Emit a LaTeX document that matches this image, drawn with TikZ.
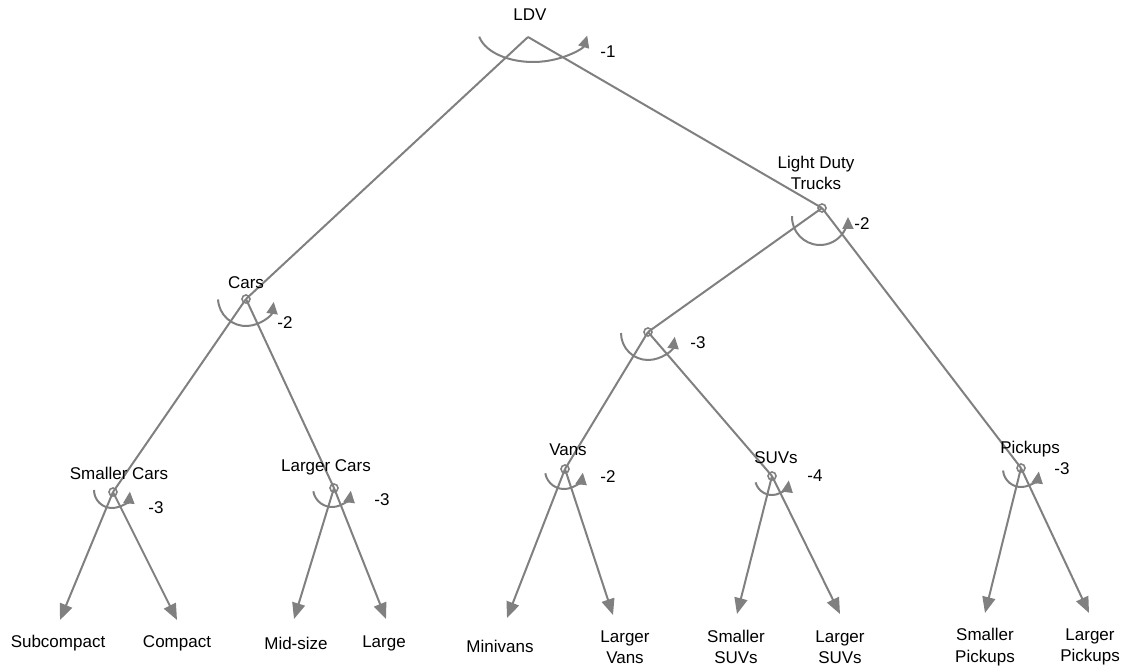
\documentclass[tikz,border=0pt]{standalone}
\usepackage{fontspec}
\setmainfont{Liberation Sans}
\usepackage{tikz}
\usetikzlibrary{arrows.meta}
\definecolor{ldvgray}{RGB}{128,128,128}
\definecolor{ldvtext}{RGB}{0,0,0}

\tikzset{
  branch/.style={draw=ldvgray, line width=2pt},
  leafarrow/.style={branch, -{Triangle[length=16pt,width=13pt]}},
  looparc/.style={draw=ldvgray, line width=2pt, -{Triangle[length=12pt,width=11pt]}},
  nest/.style={circle, draw=ldvgray, line width=1.6pt, inner sep=0pt, minimum size=8pt},
  lbl/.style={font=\fontsize{17}{21.5}\selectfont, text=ldvtext, align=center, inner sep=0pt},
}

\begin{document}
\begin{tikzpicture}[x=1pt, y=-1pt]
\useasboundingbox (0,0) rectangle (1135,668);

% ---- nesting points ----
\coordinate (ldv) at (528,37);
\node[nest] (cars)   at (246,299) {};
\node[nest] (ldt)    at (822,208) {};
\node[nest] (vansuv) at (648,332) {};
\node[nest] (smcars) at (113,492) {};
\node[nest] (lgcars) at (334,488) {};
\node[nest] (vans)   at (565,469) {};
\node[nest] (suvs)   at (772,476) {};
\node[nest] (pick)   at (1021,468) {};

% ---- leaf ends ----
\coordinate (subc)  at (60,620);
\coordinate (comp)  at (177,620);
\coordinate (mids)  at (294,619);
\coordinate (large) at (386,619);
\coordinate (mini)  at (507,618);
\coordinate (lgvan) at (613,615);
\coordinate (smsuv) at (737,614);
\coordinate (lgsuv) at (840,614);
\coordinate (smpk)  at (985,613);
\coordinate (lgpk)  at (1089,613);

% ---- branches ----
\draw[branch] (ldv) -- (cars.center);
\draw[branch] (ldv) -- (ldt.center);
\draw[branch] (cars.center) -- (smcars.center);
\draw[branch] (cars.center) -- (lgcars.center);
\draw[branch] (ldt.center) -- (vansuv.center);
\draw[branch] (ldt.center) -- (pick.center);
\draw[branch] (vansuv.center) -- (vans.center);
\draw[branch] (vansuv.center) -- (suvs.center);

\draw[leafarrow] (smcars.center) -- (subc);
\draw[leafarrow] (smcars.center) -- (comp);
\draw[leafarrow] (lgcars.center) -- (mids);
\draw[leafarrow] (lgcars.center) -- (large);
\draw[leafarrow] (vans.center) -- (mini);
\draw[leafarrow] (vans.center) -- (lgvan);
\draw[leafarrow] (suvs.center) -- (smsuv);
\draw[leafarrow] (suvs.center) -- (lgsuv);
\draw[leafarrow] (pick.center) -- (smpk);
\draw[leafarrow] (pick.center) -- (lgpk);

% ---- elasticity arcs ----
\draw[looparc] (533,30) ++(192:55pt and 32pt)
  arc[start angle=192, end angle=350, x radius=55pt, y radius=32pt];
\draw[looparc] (246,298) ++(183:28pt) arc[start angle=183, end angle=352, radius=28pt];
\draw[looparc] (820,217) ++(178:28pt) arc[start angle=178, end angle=360, radius=28pt];
\draw[looparc] (648,333) ++(180:27pt) arc[start angle=180, end angle=352, radius=27pt];
\draw[looparc] (112,490) ++(180:18pt) arc[start angle=180, end angle=355, radius=18pt];
\draw[looparc] (332,488) ++(190:19pt) arc[start angle=190, end angle=352, radius=19pt];
\draw[looparc] (564,470) ++(190:19pt) arc[start angle=190, end angle=352, radius=19pt];
\draw[looparc] (772,478) ++(195:17pt) arc[start angle=195, end angle=352, radius=17pt];
\draw[looparc] (1021,469) ++(185:18pt) arc[start angle=185, end angle=352, radius=18pt];

% ---- nest labels ----
\node[lbl] (ldvlbl)    at (530,15)  {LDV};
\node[lbl] (carslbl)   at (246,283) {Cars};
\node[lbl] (ldtlbl)    at (816,173) {Light Duty\\Trucks};
\node[lbl] (smcarslbl) at (119,473) {Smaller Cars};
\node[lbl] (lgcarslbl) at (326,467) {Larger Cars};
\node[lbl] (vanslbl)   at (568,450) {Vans};
\node[lbl] (suvslbl)   at (776,458) {SUVs};
\node[lbl] (picklbl)   at (1030,449){Pickups};

% ---- elasticity values ----
\node[lbl] (e1)  at (608,52)  {-1};
\node[lbl] (e2)  at (285,323) {-2};
\node[lbl] (e3)  at (862,224) {-2};
\node[lbl] (e4)  at (698,343) {-3};
\node[lbl] (e5)  at (156,508) {-3};
\node[lbl] (e6)  at (382,500) {-3};
\node[lbl] (e7)  at (608,477) {-2};
\node[lbl] (e8)  at (815,476) {-4};
\node[lbl] (e9)  at (1062,469){-3};

% ---- leaf labels ----
\node[lbl] (subclbl)  at (58,643)   {Subcompact};
\node[lbl] (complbl)  at (177,643)  {Compact};
\node[lbl] (midslbl)  at (296,643)  {Mid-size};
\node[lbl] (largelbl) at (384,643)  {Large};
\node[lbl] (minilbl)  at (500,646)  {Minivans};
\node[lbl] (lgvanlbl) at (625,647)  {Larger\\Vans};
\node[lbl] (smsuvlbl) at (736,647)  {Smaller\\SUVs};
\node[lbl] (lgsuvlbl) at (840,647)  {Larger\\SUVs};
\node[lbl] (smpklbl)  at (985,647)  {Smaller\\Pickups};
\node[lbl] (lgpklbl)  at (1090,647) {Larger\\Pickups};
\end{tikzpicture}
\end{document}
